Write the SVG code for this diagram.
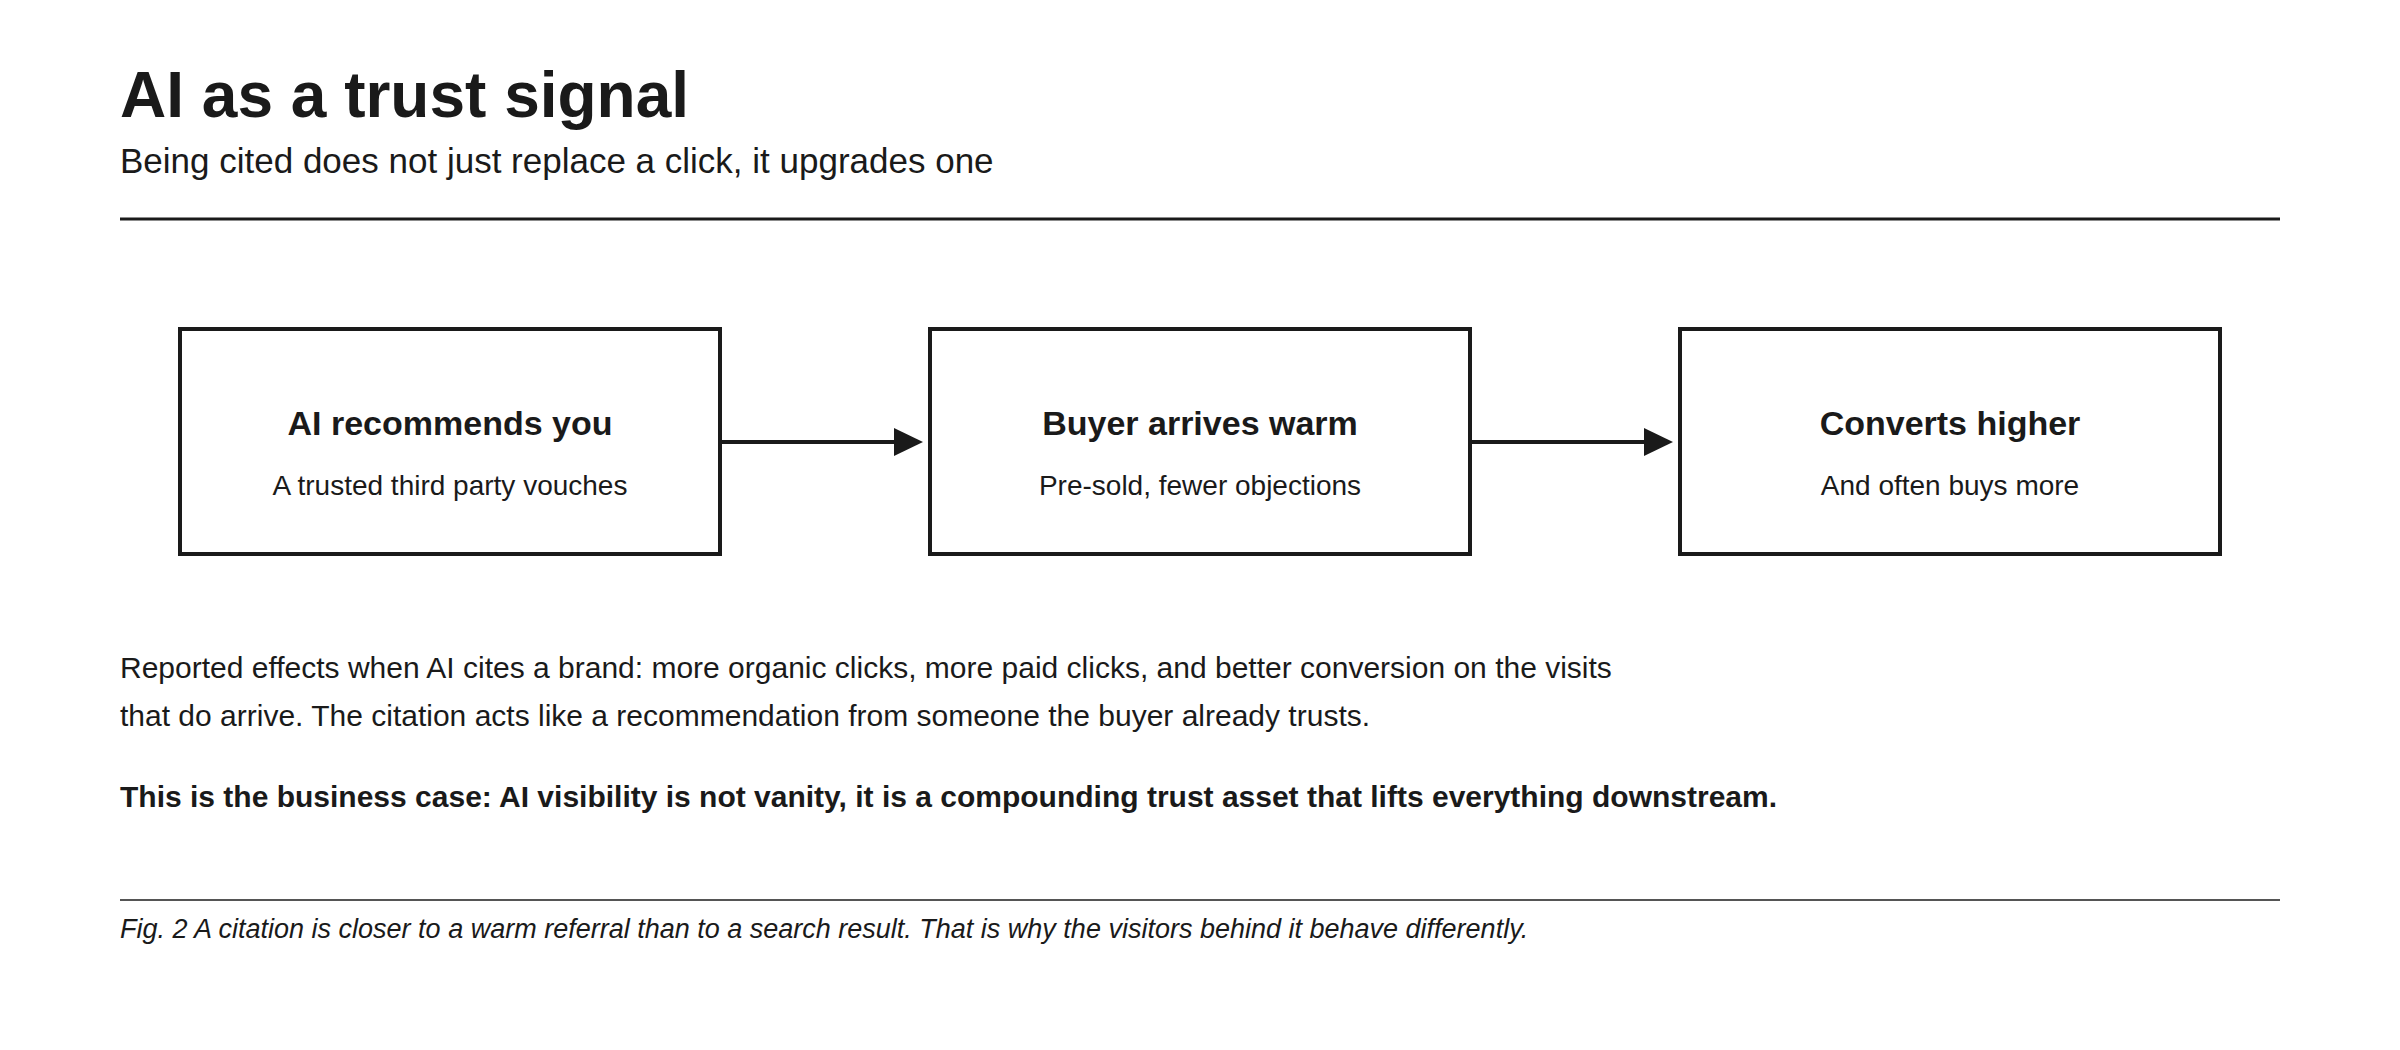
<svg xmlns="http://www.w3.org/2000/svg" width="2400" height="1050" viewBox="0 0 2400 1050">
<style>
text{font-family:"Liberation Sans",Arial,sans-serif;fill:#1a1a1a}
.box{fill:#fff;stroke:#1a1a1a;stroke-width:4}
.bt{font-size:34px;font-weight:bold;text-anchor:middle}
.bs{font-size:28px;text-anchor:middle}
.con{stroke:#1a1a1a;stroke-width:4;fill:none}
</style>
<defs><marker id="ah" markerWidth="10" markerHeight="10" refX="9" refY="5" orient="auto" markerUnits="userSpaceOnUse" viewBox="0 0 10 10"><path d="M0,0 L10,5 L0,10 z" fill="#1a1a1a"/></marker></defs>
<rect width="2400" height="1050" fill="#fff"/>
<text x="120" y="117" font-size="64" font-weight="bold">AI as a trust signal</text>
<text x="120" y="173" font-size="35">Being cited does not just replace a click, it upgrades one</text>
<line x1="120" y1="219" x2="2280" y2="219" stroke="#1a1a1a" stroke-width="3"/>
<g id="n1"><rect class="box" x="180" y="329" width="540" height="225"/><text class="bt" x="450" y="435">AI recommends you</text><text class="bs" x="450" y="495">A trusted third party vouches</text></g>
<g id="n2"><rect class="box" x="930" y="329" width="540" height="225"/><text class="bt" x="1200" y="435">Buyer arrives warm</text><text class="bs" x="1200" y="495">Pre-sold, fewer objections</text></g>
<g id="n3"><rect class="box" x="1680" y="329" width="540" height="225"/><text class="bt" x="1950" y="435">Converts higher</text><text class="bs" x="1950" y="495">And often buys more</text></g>
<g id="connectors">
<path class="con" d="M722,442 H895"/><path d="M894,428 L923,442 L894,456 z" fill="#1a1a1a"/>
<path class="con" d="M1472,442 H1645"/><path d="M1644,428 L1673,442 L1644,456 z" fill="#1a1a1a"/>
</g>
<text x="120" y="678" font-size="30">Reported effects when AI cites a brand: more organic clicks, more paid clicks, and better conversion on the visits</text>
<text x="120" y="726" font-size="30">that do arrive. The citation acts like a recommendation from someone the buyer already trusts.</text>
<text x="120" y="807" font-size="30" font-weight="bold">This is the business case: AI visibility is not vanity, it is a compounding trust asset that lifts everything downstream.</text>
<line x1="120" y1="900" x2="2280" y2="900" stroke="#555" stroke-width="2"/>
<text x="120" y="938" font-size="27" font-style="italic">Fig. 2 A citation is closer to a warm referral than to a search result. That is why the visitors behind it behave differently.</text>
</svg>
